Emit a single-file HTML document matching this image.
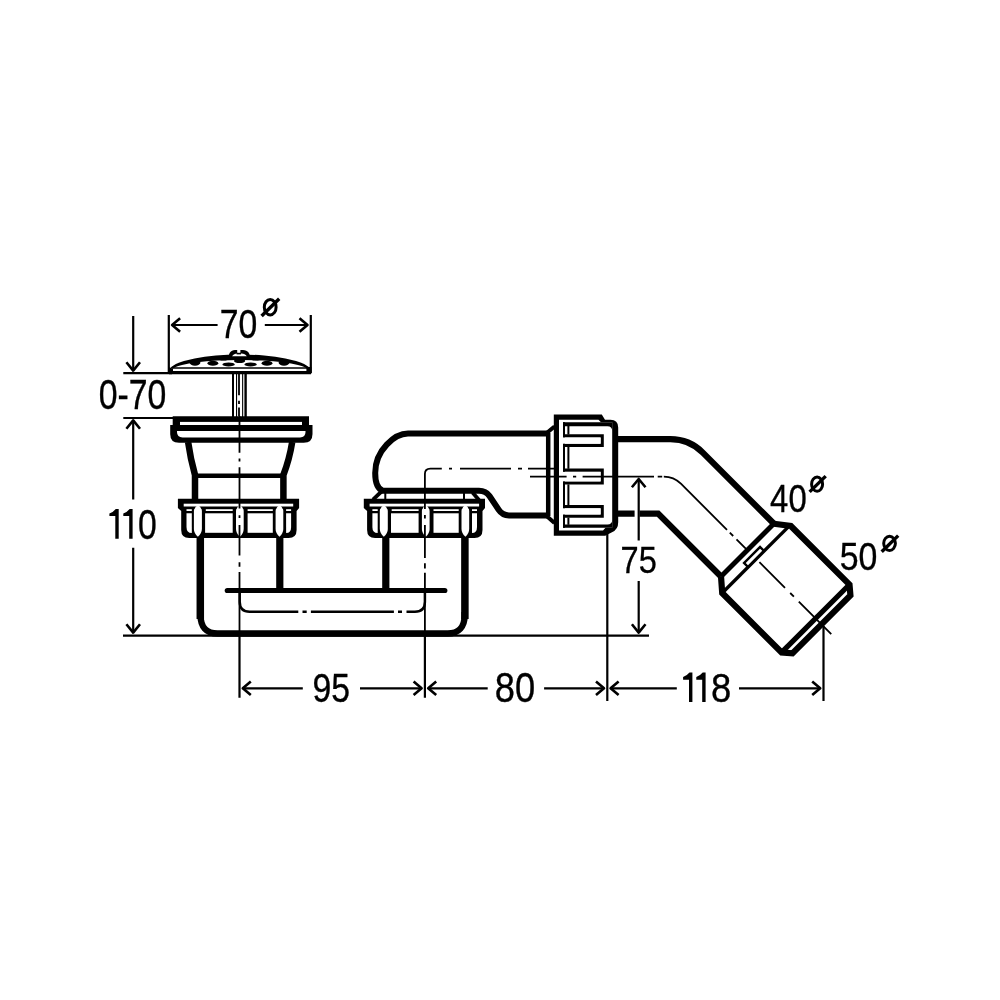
<!DOCTYPE html>
<html><head><meta charset="utf-8"><title>drawing</title>
<style>
html,body{margin:0;padding:0;background:#fff;width:1000px;height:1000px;overflow:hidden}
svg{display:block;position:absolute;left:0;top:0;will-change:transform}
text{font-family:"Liberation Sans",sans-serif;fill:#000}
</style></head><body>
<svg width="1000" height="1000" viewBox="0 0 1000 1000">
<rect width="1000" height="1000" fill="#fff"/>

<!-- ============ DIMENSIONS ============ -->
<g fill="none" stroke="#000" stroke-width="2.2">
  <!-- 0-70 -->
  <path d="M133.2,316 V370.6"/>
  <path d="M123.3,373.2 H172" stroke-width="2.3"/>
  <path d="M123.3,418 H174"/>
  <path d="M133.2,420.4 V499.4 M133.2,547.8 V632.6"/>
  <path d="M123,635.6 H649"/>
  <!-- 70 dia -->
  <path d="M168.8,315 V373 M310.8,315 V373"/>
  <path d="M172.1,325 H217.6 M264.8,325 H307.5"/>
  <!-- bottom dims -->
  <path d="M239.5,636 V697.7 M424.9,636 V697.7 M607.3,531 V701 M823.5,626 V701"/>
  <path d="M242.8,688.3 H302.8 M360,688.3 H421.6 M428.2,688.3 H487.7 M544.1,688.3 H604 M610.6,688.3 H676.8 M739,688.3 H820.2"/>
  <!-- 75 -->
  <path d="M638.7,479 V540.5 M638.7,581 V632.6"/>
</g>
<g fill="none" stroke="#000" stroke-width="2.6" stroke-linejoin="round" stroke-linecap="butt">
  <path d="M126.4,362.3 L133.2,370.6 L140.0,362.3"/>
  <path d="M126.4,428.7 L133.2,420.4 L140.0,428.7"/>
  <path d="M126.4,624.3 L133.2,632.6 L140.0,624.3"/>
  <path d="M180.1,318.2 L172.1,325.0 L180.1,331.8"/>
  <path d="M299.5,318.2 L307.5,325.0 L299.5,331.8"/>
  <path d="M250.8,681.5 L242.8,688.3 L250.8,695.1"/>
  <path d="M413.6,681.5 L421.6,688.3 L413.6,695.1"/>
  <path d="M436.2,681.5 L428.2,688.3 L436.2,695.1"/>
  <path d="M596.0,681.5 L604.0,688.3 L596.0,695.1"/>
  <path d="M618.6,681.5 L610.6,688.3 L618.6,695.1"/>
  <path d="M812.2,681.5 L820.2,688.3 L812.2,695.1"/>
  <path d="M631.9,487.3 L638.7,479.0 L645.5,487.3"/>
  <path d="M631.9,624.3 L638.7,632.6 L645.5,624.3"/>
</g>

<!-- ============ TEXT ============ -->
<g stroke="#000" stroke-width="0.35">
<text transform="translate(219.71,337.58) scale(0.8439,1.0370)" font-size="40">70</text>
<text transform="translate(98.70,409.03) scale(0.8444,1.0440)" font-size="40">0-70</text>
<text transform="translate(137.97,538.50) scale(0.8433,1.0570)" font-size="40">0</text>
<text transform="translate(312.48,701.59) scale(0.8439,1.0070)" font-size="40">95</text>
<text transform="translate(494.82,702.08) scale(0.9067,1.0475)" font-size="40">80</text>
<text transform="translate(711.02,701.61) scale(0.9117,1.0360)" font-size="40">8</text>
<text transform="translate(620.62,572.62) scale(0.8149,0.9464)" font-size="40">75</text>
<text transform="translate(770.12,512.26) scale(0.8216,0.9736)" font-size="40">40</text>
<text transform="translate(839.69,570.21) scale(0.8467,0.9665)" font-size="40">50</text>
</g>
<path d="M115.80,508.90 H118.70 V538.70 H115.30 V516.10 H109.40 V513.50 Q112.90,512.30 115.80,508.90 Z M129.70,508.90 H132.60 V538.70 H129.20 V516.10 H123.30 V513.50 Q126.80,512.30 129.70,508.90 Z M689.50,672.50 H692.40 V702.00 H689.00 V679.70 H683.10 V677.10 Q686.60,675.90 689.50,672.50 Z M702.70,672.50 H705.60 V702.00 H702.20 V679.70 H696.30 V677.10 Q699.80,675.90 702.70,672.50 Z" fill="#000"/>
<g fill="none" stroke="#000" stroke-width="3">
  <ellipse cx="270.2" cy="307.2" rx="5.9" ry="7.7"/>
  <ellipse cx="817.1" cy="484.15" rx="5.5" ry="7.1"/>
  <ellipse cx="889.55" cy="543.35" rx="5.85" ry="7.1"/>
</g>
<g fill="none" stroke="#000" stroke-width="3.4">
  <path d="M261.6,316 L279.2,298.8"/>
  <path d="M809.6,491.9 L825.7,476.1"/>
  <path d="M881.7,551.8 L898.2,535.6"/>
</g>

<!-- ============ CAP ============ -->
<g>
  <path d="M170.2,368.3 A71,16.84 0 0 1 309.8,368.3 L306.5,368.3 A68,10.5 0 0 0 173.5,368.3 Z" fill="#000"/>
  <g fill="#000">
    <ellipse cx="195" cy="362.8" rx="5.4" ry="2.9"/>
    <ellipse cx="223.5" cy="358.2" rx="5" ry="2.4"/>
    <ellipse cx="255.5" cy="358.2" rx="5" ry="2.4"/>
    <ellipse cx="212.9" cy="363.3" rx="5.4" ry="2.5"/>
    <ellipse cx="228.6" cy="364.4" rx="6.2" ry="2"/>
    <ellipse cx="239.6" cy="360.9" rx="5.6" ry="2.2"/>
    <ellipse cx="250.6" cy="364.4" rx="6.2" ry="2"/>
    <ellipse cx="267" cy="363.3" rx="5.4" ry="2.5"/>
    <ellipse cx="284" cy="362.8" rx="5.4" ry="2.9"/>
  </g>
  <path d="M228.4,358 C228.8,351.5 232,350 236.6,350 H241 C246.5,350 249.8,351.5 250.2,358 Z" fill="#000"/>
  <path d="M232,356.2 C233.5,354.2 235,353.4 237,353.4 H241.5 C244,353.4 245.5,354.2 246.8,356.2 Z" fill="#fff"/>
  <path d="M237.2,349 H240.4 V352.8 Q238.8,353.8 237.2,352.8 Z" fill="#fff"/>
  <rect x="236.6" y="352.8" width="4.4" height="1.6" fill="#000"/>
  <path d="M171.8,368 H311" stroke="#000" stroke-width="1.6"/>
  <path d="M169,372.6 H311" stroke="#000" stroke-width="3.4"/>
  <path d="M168.5,367 L173,368.8 V373.6 H168.5 Z" fill="#000"/>
  <rect x="306.4" y="367" width="5" height="6.6" fill="#000"/>
</g>
<!-- stem -->
<g fill="#000">
  <rect x="232" y="373.6" width="2" height="43.5"/>
  <rect x="236" y="373.6" width="1.1" height="43.5"/>
  <rect x="242.1" y="373.6" width="1.1" height="43.5"/>
  <rect x="244.4" y="373.6" width="2.4" height="43.5"/>
</g>

<!-- ============ FLANGE / BODY ============ -->
<g>
  <path d="M172.7,416.3 H309 V431 H172.7 Z" fill="#000"/>
  <rect x="180" y="421.9" width="122" height="3.1" fill="#fff"/>
  <path d="M170.2,425 H312.5 V434 Q312.5,442.8 303.7,442.8 H179 Q170.2,442.8 170.2,434 Z" fill="#000"/>
  <path d="M177,431 H305.5 V432 Q305.5,437.4 300,437.4 H182.5 Q177,437.4 177,432 Z" fill="#fff"/>
  <path d="M188.1,442 Q190.5,459 195,475 V499.5" fill="none" stroke="#000" stroke-width="6.5"/>
  <path d="M292.2,442 Q289.5,459 283.4,475 V499.5" fill="none" stroke="#000" stroke-width="6.5"/>
  <path d="M195,475.8 H283.5" stroke="#000" stroke-width="4.5"/>
</g>

<!-- ============ NUTS ============ -->

<g>
    <path d="M177.9,498.8 H299.1 V508 L296.6,511 V530 Q296.6,538 288.6,538 H189.2 Q181.2,538 181.2,530 V511 L177.9,508 Z" fill="#000"/>
    <g fill="#fff">
      <rect x="183.7" y="503.7" width="109.5" height="2.8"/>
      <path d="M186.5,513.3 H191.8 V533 Q186.5,533 186.5,527 Z"/>
      <rect x="186.5" y="509.2" width="5.3" height="1.8"/>
      <path d="M286.1,513.3 H291.1 V527 Q291.1,533 286.1,533 Z"/>
      <rect x="286.1" y="509.2" width="5" height="1.8"/>
      <path d="M197.9,505 Q201.9,507.5 201.9,511 V529 Q201.9,533 197.9,536.8 Q193.9,533 193.9,529 V511 Q193.9,507.5 197.9,505 Z"/>
      <path d="M239.9,505 Q243.7,507.5 243.7,511 V529 Q243.7,533 239.9,536.8 Q236,533 236,529 V511 Q236,507.5 239.9,505 Z"/>
      <path d="M279.5,505 Q283.3,507.5 283.3,511 V529 Q283.3,533 279.5,536.8 Q275.6,533 275.6,529 V511 Q275.6,507.5 279.5,505 Z"/>
      <rect x="205.1" y="513.3" width="27.6" height="19.5"/>
      <rect x="205.8" y="509.2" width="26.9" height="1.8"/>
      <rect x="247.6" y="513.3" width="25.2" height="19.5"/>
      <rect x="247.6" y="509.2" width="25.2" height="1.8"/>
    </g>
  </g>
<g transform="translate(185.9,0)">
<g>
    <path d="M177.9,498.8 H299.1 V508 L296.6,511 V530 Q296.6,538 288.6,538 H189.2 Q181.2,538 181.2,530 V511 L177.9,508 Z" fill="#000"/>
    <g fill="#fff">
      <rect x="183.7" y="503.7" width="109.5" height="2.8"/>
      <path d="M186.5,513.3 H191.8 V533 Q186.5,533 186.5,527 Z"/>
      <rect x="186.5" y="509.2" width="5.3" height="1.8"/>
      <path d="M286.1,513.3 H291.1 V527 Q291.1,533 286.1,533 Z"/>
      <rect x="286.1" y="509.2" width="5" height="1.8"/>
      <path d="M197.9,505 Q201.9,507.5 201.9,511 V529 Q201.9,533 197.9,536.8 Q193.9,533 193.9,529 V511 Q193.9,507.5 197.9,505 Z"/>
      <path d="M239.9,505 Q243.7,507.5 243.7,511 V529 Q243.7,533 239.9,536.8 Q236,533 236,529 V511 Q236,507.5 239.9,505 Z"/>
      <path d="M279.5,505 Q283.3,507.5 283.3,511 V529 Q283.3,533 279.5,536.8 Q275.6,533 275.6,529 V511 Q275.6,507.5 279.5,505 Z"/>
      <rect x="205.1" y="513.3" width="27.6" height="19.5"/>
      <rect x="205.8" y="509.2" width="26.9" height="1.8"/>
      <rect x="247.6" y="513.3" width="25.2" height="19.5"/>
      <rect x="247.6" y="509.2" width="25.2" height="1.8"/>
    </g>
  </g>
</g>

<!-- ============ U PIPE ============ -->
<g fill="none" stroke="#000">
  <path d="M200.3,537 V619 M464.9,619 V537" stroke-width="7.5"/>
  <path d="M200.6,612 V616 C200.6,626 206,633.5 217.5,633.5 H447.7 C459,633.5 464.6,626 464.6,616 V612" stroke-width="6.4"/>
  <path d="M279.8,537 V590 M385.8,537 V590" stroke-width="7.2"/>
  <path d="M227.3,590.5 H444.8" stroke-width="5.2" stroke-linecap="round"/>
  <path d="M239.7,593 V601.7 Q239.7,611.7 249.7,611.7 H298.3 M302.5,611.7 H306.7 M310.9,611.7 H393.9 M398,611.7 H402 M406.5,611.7 H414.9 Q424.9,611.7 424.9,601.7 V593" stroke-width="2.5"/>
</g>
<!-- ============ ELBOW ============ -->
<g fill="none" stroke="#000">
  <path d="M548,433.6 H408 C395,433.6 375.2,450 375.2,473 C375.2,483 377.5,489 383,490.8 H479 Q486,490.8 489.5,496 L498.5,509.5 Q502.5,515.4 509,515.4 H548" stroke-width="6"/>
  <path d="M381.5,491.5 L373,499.6 M472.5,492.5 L479,500" stroke-width="3.8"/>
  <path d="M385.3,493 V499 M464,493 V499" stroke-width="2"/>
  <path d="M548.2,433 V516" stroke-width="4.5"/>
  <path d="M545.5,434 L554.5,426.5 M545.5,515 L554.5,523" stroke-width="4"/>
</g>

<!-- ============ COUPLING NUT ============ -->
<g>
  <path d="M553.8,414.6 H601.8 L605,419.8 H610.4 Q618.2,419.8 618.2,427.6 V522 Q618.3,529.5 612,532.2 L605.2,535.8 H553.8 Z" fill="#000"/>
  <path d="M559,419.8 H598.5 L601,422.2 H612.2 V527.8 H605.5 L603,530.6 H559 Z" fill="#fff"/>
  <g fill="#000">
    <path d="M563,422.2 H612.2 V431 Q612.2,426.2 607.4,426.2 H563 Z"/>
    <path d="M563,527.8 H612.2 V519.8 Q612.2,524.6 607.4,524.6 H563 Z"/>
    <rect x="563" y="422.2" width="2" height="105.6"/>
    <rect x="567.4" y="426" width="2" height="8.5"/>
    <rect x="567.4" y="446.8" width="2" height="22"/>
    <rect x="567.4" y="484.4" width="2" height="20.8"/>
    <rect x="567.4" y="517.6" width="2" height="7.2"/>
  </g>
  <g fill="none" stroke="#000" stroke-width="3.2">
    <path d="M564,435.8 H602.2 V445.4 H564"/>
    <path d="M564,470.2 H602.2 V483 H564"/>
    <path d="M564,506.6 H602.2 V516.2 H564"/>
  </g>
  <g fill="#fff">
    <rect x="559.2" y="437.5" width="41.4" height="6.2"/>
    <rect x="559.2" y="471.9" width="41.4" height="9.4"/>
    <rect x="559.2" y="508.3" width="41.4" height="6.2"/>
  </g>
</g>

<!-- ============ RIGHT PIPE ============ -->
<g fill="none" stroke="#000" stroke-width="6.2">
  <path d="M617,439.2 H670.4 Q689.4,439.2 702.8,452.6 L773.98,523.76"/>
  <path d="M617,513.6 H634.6 M639.6,513.6 H658.1 L721.02,576.52"/>
  <path d="M773.98,523.76 L790.81,526.03 L849.50,584.52 L850.42,595.33 L792.43,653.32 L781.62,652.40 L722.22,593.00 L721.02,576.52" stroke-linejoin="miter"/>
  <path d="M721.02,576.52 L773.98,523.56" stroke-width="5"/>
  <path d="M722.22,593.00 L790.10,525.12" stroke-width="3.4"/>
  <path d="M781.62,652.40 L849.50,584.52" stroke-width="5.2"/>
</g>
<g transform="matrix(0.70711,0.70711,0.70711,-0.70711,98.55,-98.55)">
  <rect x="924.2" y="-11.3" width="5.5" height="22.6" fill="#fff" stroke="#000" stroke-width="2.4"/>
</g>

<!-- ============ CENTER LINES ============ -->
<g fill="none" stroke="#000" stroke-width="1.8">
  <path d="M239,373.6 V395.2 M239,400.8 V404 M239,407.6 V416"/>
  <path d="M239.5,416 V452.8 M239.5,458.4 V461.6 M239.5,467.2 V508.6 M239.5,515.3 V518 M239.5,525 V555.5 M239.5,562.2 V566.7 M239.5,572 V636"/>
  <path d="M424.9,509 V474.1 Q424.9,468.6 430.4,468.6 H441.8 M449,468.6 H452 M460,468.6 H511 M518,468.6 H522 M528,468.6 H554"/>
  <path d="M424.9,515 V518.5 M424.9,525 V558 M424.9,563.3 V568.4 M424.9,572.7 V636"/>
  <path d="M530,476.6 H566.6 M573,476.6 H576.2 M582.6,476.6 H654 M657.7,476.6 H662.2 M663.8,476.6 Q673.8,476.6 680.9,483.7 L727,529.8 M729.8,532.6 L733.2,536 M736.5,539.3 L746,548.8 M759.4,562.2 L785,587.8 M790.2,593 L793.9,596.7 M798.8,601.6 L831.25,634.1"/>
</g>

</svg>
</body></html>
